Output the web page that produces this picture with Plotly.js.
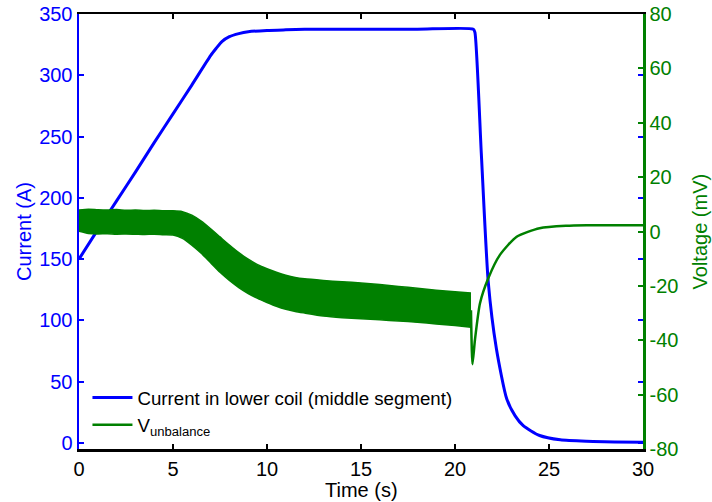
<!DOCTYPE html>
<html>
<head>
<meta charset="utf-8">
<script src="https://cdn.plot.ly/plotly-3.0.1.min.js"></script>
<style>html,body{margin:0;padding:0;background:#fff;}#chart{width:712px;height:502px;}</style>
</head>
<body>
<div id="chart"></div>
<script>
// Current in lower coil (A)
const currentTime = [0, 1, 2, 3, 4, 5, 6, 7, 7.3, 7.6, 8, 8.5, 9, 10, 11, 12, 15, 18, 20.98, 21.06, 21.4, 21.77, 22.2, 22.75, 23.2, 23.63, 24.5, 25.6, 27, 28.5, 30];
const currentVal  = [150, 174, 197.5, 221, 245, 268.5, 292, 316, 322, 327.5, 331.5, 334, 335.5, 336.6, 337.1, 337.5, 337.6, 337.6, 337.6, 335, 236, 131, 77, 36, 22, 14, 6, 2.5, 1.3, 0.8, 0.5];

// V_unbalance ripple band (mV): upper and lower envelopes
const bandTime  = [0, 0.5, 1, 1.5, 2, 2.5, 3, 3.5, 4, 4.5, 5, 5.5, 6, 6.5, 7, 7.5, 8, 8.5, 9, 9.5, 10, 10.5, 11, 11.5, 12, 13, 14, 15, 16, 17, 18, 19, 20, 20.85];
const bandUpper = [7.9, 8.2, 8.0, 7.9, 8.1, 7.8, 7.9, 7.7, 7.8, 7.6, 7.6, 7.3, 6.0, 3.8, 1.0, -2.0, -5.0, -7.8, -10.2, -12.2, -13.7, -15.0, -16.1, -16.9, -17.4, -18.0, -18.5, -18.9, -19.5, -20.2, -20.9, -21.6, -22.2, -22.6];
const bandLower = [0.1, -0.7, -0.9, -0.8, -1.0, -0.9, -1.0, -1.1, -1.0, -1.2, -1.3, -2.5, -5.0, -8.0, -11.5, -15.0, -18.0, -20.6, -22.8, -24.6, -26.1, -27.5, -28.6, -29.4, -30.0, -31.1, -31.7, -32.1, -32.5, -32.9, -33.4, -34.0, -34.6, -35.2];

// V_unbalance after the current ramp-down (mV)
const tailTime = [20.85, 20.93, 21.06, 21.33, 21.77, 22.39, 23.28, 24.5, 25.9, 27, 28.5, 30];
const tailVal  = [-29, -48.8, -39.9, -26.4, -17.2, -8.6, -1.9, 1.2, 2.1, 2.3, 2.3, 2.3];

const xTicks = [0, 5, 10, 15, 20, 25, 30];
const yTicks = [0, 50, 100, 150, 200, 250, 300, 350];
const y2Ticks = [-80, -60, -40, -20, 0, 20, 40, 60, 80];

const BLUE = '#0000ff', GREEN = '#008000';
const FONT = '"Liberation Sans", Arial, Helvetica, sans-serif';

const traces = [
  {x: currentTime, y: currentVal, type: 'scatter', mode: 'lines', name: 'Current in lower coil (middle segment)',
   line: {color: BLUE, width: 3, shape: 'spline', smoothing: 0.6}, xaxis: 'x', yaxis: 'y'},
  {x: bandTime, y: bandLower, type: 'scatter', mode: 'lines', showlegend: false,
   line: {color: GREEN, width: 1.5, shape: 'spline', smoothing: 0.6}, xaxis: 'x', yaxis: 'y2', hoverinfo: 'skip'},
  {x: bandTime, y: bandUpper, type: 'scatter', mode: 'lines', showlegend: false, fill: 'tonexty', fillcolor: GREEN,
   line: {color: GREEN, width: 1.5, shape: 'spline', smoothing: 0.6}, xaxis: 'x', yaxis: 'y2', hoverinfo: 'skip'},
  {x: tailTime, y: tailVal, type: 'scatter', mode: 'lines', name: 'V<sub>unbalance</sub>',
   line: {color: GREEN, width: 2.5, shape: 'spline', smoothing: 0.6}, xaxis: 'x', yaxis: 'y2'}
];

const layout = {
  width: 712, height: 502,
  margin: {l: 79, r: 69, t: 14, b: 53, pad: 0},
  paper_bgcolor: '#fff', plot_bgcolor: '#fff',
  font: {family: FONT, size: 20, color: '#000'},
  showlegend: true,
  legend: {x: 0.015, y: 0.012, xanchor: 'left', yanchor: 'bottom', bgcolor: 'rgba(0,0,0,0)', traceorder: 'normal',
           font: {family: FONT, size: 18.7, color: '#000'}, tracegroupgap: 0, itemwidth: 40},
  xaxis: {range: [0, 30], tickvals: xTicks, ticktext: xTicks.map(String), ticks: 'inside', ticklen: 5, tickwidth: 1.5,
          tickcolor: '#000', showline: true, linecolor: '#000', linewidth: 2.5, mirror: 'ticks',
          showgrid: false, zeroline: false, tickfont: {size: 20, color: '#000'}},
  yaxis: {range: [-5, 350], tickvals: yTicks, ticktext: yTicks.map(String), ticks: 'inside', ticklen: 5, tickwidth: 2,
          tickcolor: BLUE, showline: true, linecolor: BLUE, linewidth: 2.5, mirror: false,
          showgrid: false, zeroline: false, tickfont: {size: 20, color: BLUE},
          title: {text: 'Current (A)', font: {size: 20, color: BLUE}, standoff: 2}},
  yaxis2: {range: [-80, 80], tickvals: y2Ticks, ticktext: y2Ticks.map(String), overlaying: 'y', side: 'right',
           ticks: 'inside', ticklen: 5, tickwidth: 2, tickcolor: GREEN, showline: true, linecolor: GREEN, linewidth: 2.5,
           showgrid: false, zeroline: false, tickfont: {size: 20, color: GREEN}},
  yaxis3: {range: [-5, 350], tickvals: yTicks, overlaying: 'y', side: 'right', ticks: 'inside', ticklen: 5, tickwidth: 2,
           tickcolor: BLUE, showticklabels: false, showline: false, showgrid: false, zeroline: false},
  annotations: [
    {text: 'Time (s)', xref: 'paper', yref: 'paper', x: 0.5, y: -0.0943, xanchor: 'center', yanchor: 'middle',
     showarrow: false, font: {size: 20, color: '#000'}},
    {text: 'Voltage (mV)', xref: 'paper', yref: 'paper', x: 1.101, y: 0.5, xanchor: 'center', yanchor: 'middle',
     textangle: -90, showarrow: false, font: {size: 20, color: GREEN}}
  ]
};

// invisible trace that binds the blue mirror-tick axis on the right
traces.push({x: [0], y: [0], xaxis: 'x', yaxis: 'y3', mode: 'markers', marker: {opacity: 0}, showlegend: false, hoverinfo: 'skip'});

Plotly.newPlot('chart', traces, layout, {displayModeBar: false, staticPlot: true});
</script>
</body>
</html>
